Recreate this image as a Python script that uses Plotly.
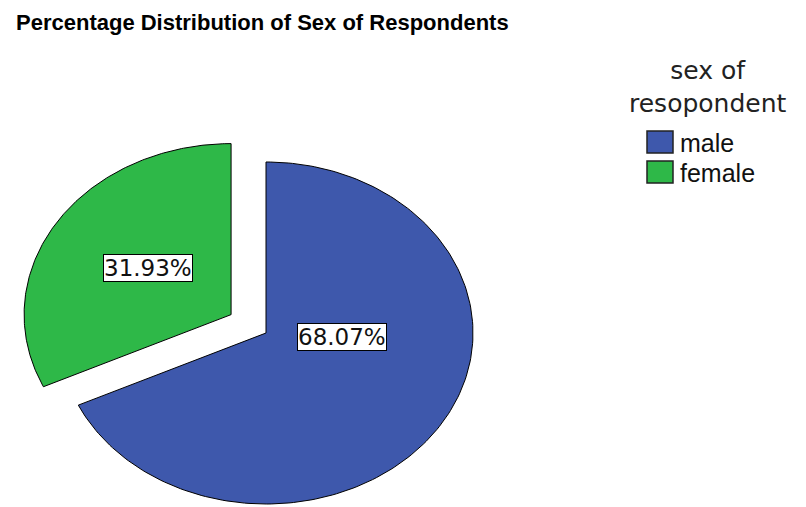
import numpy as np
import plotly.graph_objects as go

# Data
categories = ["male", "female"]
percentages = [68.07, 31.93]
colors = ["#3E58AC", "#2EB848"]
pulls = [0.0, 0.2]

W, H = 806, 507
# Pie geometry in pixels (ellipse radii and centre)
CX, CY = 266, 333
RX, RY = 207, 171

fig = go.Figure()

total = sum(percentages)
start = 0.0
mids = []
for cat, val, col, pull in zip(categories, percentages, colors, pulls):
    span = 360.0 * val / total
    # angles measured clockwise from 12 o'clock
    theta = np.radians(np.linspace(start, start + span, 200))
    mid = np.radians(start + span / 2)
    mids.append(mid)
    ox, oy = pull * np.sin(mid), pull * np.cos(mid)
    xs = np.concatenate([[ox], ox + np.sin(theta), [ox]])
    ys = np.concatenate([[oy], oy + np.cos(theta), [oy]])
    fig.add_trace(go.Scatter(
        x=xs, y=ys, mode="lines", fill="toself",
        fillcolor=col, line=dict(color="black", width=1),
        name=cat, hoverinfo="name", showlegend=False,
    ))
    start += span

# value labels (offsets in unit-ellipse space, relative to slice vertex)
label_offsets = [(0.367, -0.023), (-0.40, 0.275)]
for val, pull, mid, (lx, ly) in zip(percentages, pulls, mids, label_offsets):
    ox, oy = pull * np.sin(mid), pull * np.cos(mid)
    fig.add_annotation(
        x=ox + lx, y=oy + ly, xref="x", yref="y",
        text=f"{val:.2f}%", showarrow=False,
        font=dict(family="DejaVu Sans, sans-serif", size=23, color="#111"),
        bgcolor="white", bordercolor="black", borderwidth=1, borderpad=0,
    )

def px(x):
    return x / W

def py(y):
    return 1 - y / H

# title
fig.add_annotation(
    x=px(14), y=py(22), xref="paper", yref="paper",
    xanchor="left", yanchor="middle", showarrow=False,
    text="<b>Percentage Distribution of Sex of Respondents</b>",
    font=dict(family="Liberation Sans, Arial, sans-serif", size=22, color="black"),
)

# legend title
fig.add_annotation(
    x=px(708), y=py(87), xref="paper", yref="paper",
    xanchor="center", yanchor="middle", showarrow=False,
    text="sex of<br>resopondent",
    font=dict(family="DejaVu Sans, sans-serif", size=25, color="#222"),
)

# legend entries
for i, (cat, col) in enumerate(zip(categories, colors)):
    y0 = 131 + i * 30
    fig.add_shape(
        type="rect", xref="paper", yref="paper",
        x0=px(647), x1=px(673), y0=py(y0), y1=py(y0 + 22),
        fillcolor=col, line=dict(color="#222", width=1.5),
    )
    fig.add_annotation(
        x=px(678), y=py(y0 + 12), xref="paper", yref="paper",
        xanchor="left", yanchor="middle", showarrow=False,
        text=cat,
        font=dict(family="Liberation Sans, Arial, sans-serif", size=25, color="#111"),
    )

fig.update_layout(
    width=W, height=H,
    margin=dict(l=0, r=0, t=0, b=0),
    paper_bgcolor="white", plot_bgcolor="white",
    xaxis=dict(range=[-CX / RX, (W - CX) / RX], visible=False, fixedrange=True),
    yaxis=dict(range=[(CY - H) / RY, CY / RY], visible=False, fixedrange=True),
    showlegend=False,
)

fig.write_html("out.html")
